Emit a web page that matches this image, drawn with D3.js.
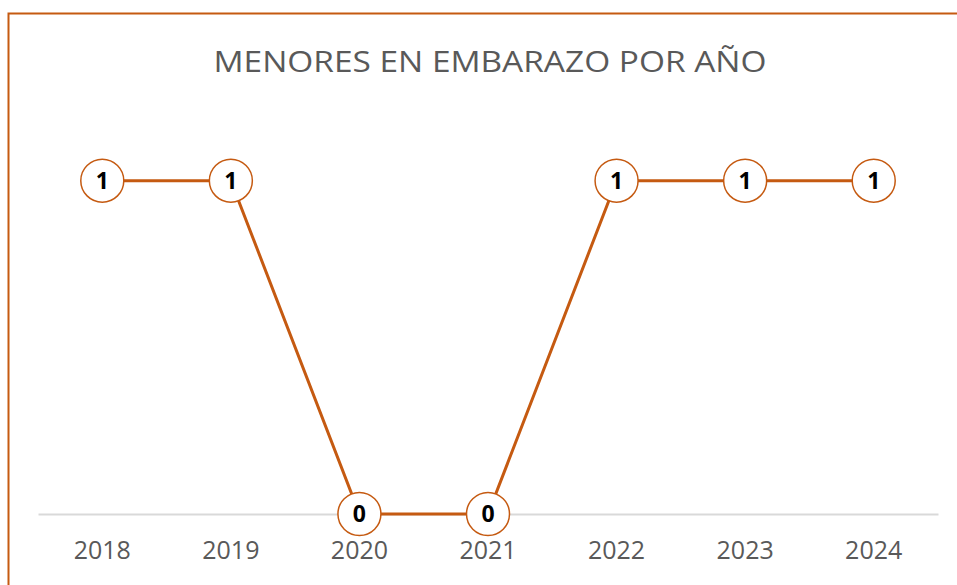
<!DOCTYPE html>
<html>
<head>
<meta charset="utf-8">
<script src="https://cdn.jsdelivr.net/npm/d3@7"></script>
<style>
  body { margin: 0; background: #fff; }
</style>
</head>
<body>
<div id="chart"></div>
<script>
// data
var years = ["2018", "2019", "2020", "2021", "2022", "2023", "2024"];
var values = [1, 1, 0, 0, 1, 1, 1];
var title = "MENORES EN EMBARAZO POR AÑO";

var W = 957, H = 585;
var orange = "#C55A11";
var margin = {top: 114, right: 19, bottom: 71, left: 38},
    width = W - margin.left - margin.right,
    height = H - margin.top - margin.bottom;

var svg = d3.select("#chart")
  .append("svg")
    .attr("width", W)
    .attr("height", H);

// frame (chart border, cut off at the right and bottom)
svg.append("rect")
  .attr("x", 8.5)
  .attr("y", 13.5)
  .attr("width", W + 20)
  .attr("height", H + 20)
  .attr("fill", "none")
  .attr("stroke", orange)
  .attr("stroke-width", 2);

// title
svg.append("text")
  .attr("x", 490)
  .attr("y", 72)
  .attr("text-anchor", "middle")
  .style("font-family", "'Open Sans', sans-serif")
  .style("font-size", "30px")
  .attr("fill", "#595959")
  .attr("textLength", 553)
  .attr("lengthAdjust", "spacingAndGlyphs")
  .text(title);

var g = svg.append("g")
  .attr("transform", "translate(" + margin.left + "," + margin.top + ")");

// X axis
var x = d3.scaleBand()
  .domain(years)
  .range([0, width]);

var y = d3.scaleLinear()
  .domain([0, 1.2])
  .range([height, 0]);

var xAxis = g.append("g")
  .attr("transform", "translate(0," + y(0) + ")")
  .call(d3.axisBottom(x).tickSize(0).tickPadding(27));
xAxis.select(".domain")
  .attr("stroke", "#d9d9d9")
  .attr("stroke-width", 2);
xAxis.selectAll("text")
  .style("font-family", "'Open Sans', sans-serif")
  .style("font-size", "25px")
  .attr("fill", "#595959");

// line
var line = d3.line()
  .x(function(d, i) { return x(years[i]) + x.bandwidth() / 2; })
  .y(function(d) { return y(d); });

g.append("path")
  .datum(values)
  .attr("fill", "none")
  .attr("stroke", orange)
  .attr("stroke-width", 3)
  .attr("d", line);

// markers
g.selectAll(".marker")
  .data(values)
  .enter()
  .append("circle")
    .attr("class", "marker")
    .attr("cx", function(d, i) { return x(years[i]) + x.bandwidth() / 2; })
    .attr("cy", function(d) { return y(d); })
    .attr("r", 21.5)
    .attr("fill", "#fff")
    .attr("stroke", orange)
    .attr("stroke-width", 1.5);

// labels
g.selectAll(".label")
  .data(values)
  .enter()
  .append("text")
    .attr("class", "label")
    .attr("x", function(d, i) { return x(years[i]) + x.bandwidth() / 2; })
    .attr("y", function(d) { return y(d); })
    .attr("dy", "0.36em")
    .attr("text-anchor", "middle")
    .style("font-family", "'Open Sans', sans-serif")
    .style("font-size", "23px")
    .style("font-weight", "bold")
    .attr("fill", "#000")
    .text(function(d) { return d; });
</script>
</body>
</html>
